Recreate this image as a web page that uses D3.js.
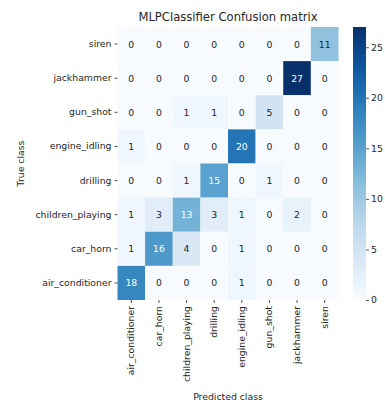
<!DOCTYPE html>
<html>
<head>
<meta charset="utf-8">
<script src="https://cdn.jsdelivr.net/npm/d3@7"></script>
<style>
  html, body { margin: 0; padding: 0; background: #fff; }
  svg { display: block; font-family: "DejaVu Sans", sans-serif; }
</style>
</head>
<body>
<svg id="chart" width="385" height="404"></svg>
<script>
// Class names: rows (true class, top to bottom) and columns (predicted class)
const trueClasses = ["siren", "jackhammer", "gun_shot", "engine_idling", "drilling", "children_playing", "car_horn", "air_conditioner"];
const predClasses = ["air_conditioner", "car_horn", "children_playing", "drilling", "engine_idling", "gun_shot", "jackhammer", "siren"];

// Counts, one row per true class in the order above
const counts = [
  [0, 0, 0, 0, 0, 0, 0, 11],
  [0, 0, 0, 0, 0, 0, 27, 0],
  [0, 0, 1, 1, 0, 5, 0, 0],
  [1, 0, 0, 0, 20, 0, 0, 0],
  [0, 0, 1, 15, 0, 1, 0, 0],
  [1, 3, 13, 3, 1, 0, 2, 0],
  [1, 16, 4, 0, 1, 0, 0, 0],
  [18, 0, 0, 0, 1, 0, 0, 0]
];
const colorbarTicks = [0, 5, 10, 15, 20, 25];

const svg = d3.select("#chart");
const plotLeft = 117.5, plotRight = 338.5, plotTop = 27, plotBottom = 300;
const tickFont = 9.3;

const x = d3.scaleBand().domain(predClasses).range([plotLeft, plotRight]);
const y = d3.scaleBand().domain(trueClasses).range([plotTop, plotBottom]);
const vmax = d3.max(counts.flat());
const color = d3.scaleSequential(d3.interpolateBlues).domain([0, vmax]);

const cells = [];
counts.forEach((row, i) => row.forEach((v, j) => cells.push({ r: trueClasses[i], c: predClasses[j], v })));

svg.append("g").selectAll("rect").data(cells).join("rect")
  .attr("x", d => x(d.c)).attr("y", d => y(d.r))
  .attr("width", x.bandwidth()).attr("height", y.bandwidth())
  .attr("fill", d => color(d.v));

// Annotation text colour follows cell luminance
function lum(c) {
  const rgb = d3.rgb(c);
  const f = v => { v /= 255; return v <= 0.03928 ? v / 12.92 : Math.pow((v + 0.055) / 1.055, 2.4); };
  return 0.2126 * f(rgb.r) + 0.7152 * f(rgb.g) + 0.0722 * f(rgb.b);
}
svg.append("g").selectAll("text").data(cells).join("text")
  .attr("x", d => x(d.c) + x.bandwidth() / 2)
  .attr("y", d => y(d.r) + y.bandwidth() / 2)
  .attr("text-anchor", "middle").attr("dominant-baseline", "central")
  .attr("font-size", tickFont)
  .attr("fill", d => lum(color(d.v)) < 0.408 ? "#fff" : "#262626")
  .text(d => d.v);

// Axes
const yAxis = svg.append("g").attr("transform", `translate(${plotLeft},0)`)
  .call(d3.axisLeft(y).tickSize(3).tickPadding(3));
const xAxis = svg.append("g").attr("transform", `translate(0,${plotBottom})`)
  .call(d3.axisBottom(x).tickSize(3).tickPadding(3));
[yAxis, xAxis].forEach(g => {
  g.select(".domain").remove();
  g.selectAll(".tick line").attr("stroke", "#262626").attr("stroke-width", 0.8);
  g.selectAll(".tick text").attr("font-size", tickFont).attr("fill", "#262626").attr("font-family", "DejaVu Sans");
});
xAxis.selectAll(".tick text")
  .attr("transform", "rotate(-90)")
  .attr("text-anchor", "end")
  .attr("x", -6).attr("y", 0).attr("dy", "0.32em");

// Title and axis labels
svg.append("text").attr("x", (plotLeft + plotRight) / 2).attr("y", 21)
  .attr("text-anchor", "middle").attr("font-size", 11.6).attr("fill", "#262626")
  .text("MLPClassifier Confusion matrix");
svg.append("text").attr("x", (plotLeft + plotRight) / 2).attr("y", 400)
  .attr("text-anchor", "middle").attr("font-size", tickFont).attr("fill", "#262626")
  .text("Predicted class");
svg.append("text").attr("transform", `translate(24,${(plotTop + plotBottom) / 2}) rotate(-90)`)
  .attr("text-anchor", "middle").attr("font-size", tickFont).attr("fill", "#262626")
  .text("True class");

// Colour bar
const cbX = 353, cbW = 13;
const cbScale = d3.scaleLinear().domain([0, vmax]).range([plotBottom, plotTop]);
const defs = svg.append("defs");
const grad = defs.append("linearGradient").attr("id", "cbgrad")
  .attr("x1", 0).attr("y1", 1).attr("x2", 0).attr("y2", 0);
d3.range(0, 1.0001, 0.05).forEach(t => {
  grad.append("stop").attr("offset", t).attr("stop-color", color(t * vmax));
});
svg.append("rect").attr("x", cbX).attr("y", plotTop).attr("width", cbW).attr("height", plotBottom - plotTop)
  .attr("fill", "url(#cbgrad)");
const cbAxis = svg.append("g").attr("transform", `translate(${cbX + cbW},0)`)
  .call(d3.axisRight(cbScale).tickValues(colorbarTicks).tickSize(3).tickPadding(2));
cbAxis.select(".domain").remove();
cbAxis.selectAll(".tick line").attr("stroke", "#262626").attr("stroke-width", 0.8);
cbAxis.selectAll(".tick text").attr("font-size", tickFont).attr("fill", "#262626").attr("font-family", "DejaVu Sans");
</script>
</body>
</html>
